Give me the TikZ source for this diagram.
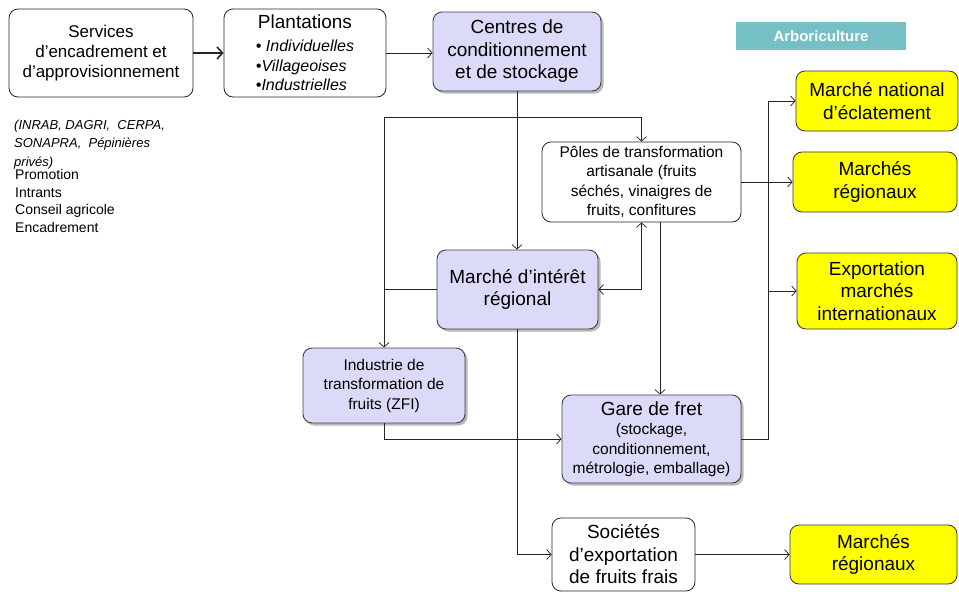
\documentclass[tikz,border=0pt]{standalone}
\usepackage{fontspec}
\setmainfont{Liberation Sans}
\usetikzlibrary{arrows.meta,shadows}

\definecolor{lav}{RGB}{219,219,249}
\definecolor{mkt}{RGB}{255,255,0}
\definecolor{arbo}{RGB}{117,192,196}

\begin{document}
\begin{tikzpicture}[x=1pt,y=-1pt,
	>={Straight Barb[length=4.5pt,width=10pt]},
	every node/.style={inner sep=0pt,align=center},
	wbox/.style={draw=black!85,fill=white,rounded corners=9pt,line width=0.8pt},
	lbox/.style={draw=black!75,fill=lav,rounded corners=9pt,line width=0.9pt,
		drop shadow={shadow xshift=2.5pt,shadow yshift=-2.5pt,fill=black!50,opacity=0.55}},
	ybox/.style={draw=black!80,fill=mkt,rounded corners=9pt,line width=0.8pt},
	flow/.style={draw=black!85,line width=0.75pt},
	bigtxt/.style={font=\fontsize{19}{22.5}\selectfont},
	smalltxt/.style={font=\fontsize{15.5}{19.5}\selectfont}]
	\useasboundingbox (0,0) rectangle (959,592);
	
	%upstream
	\node[wbox,minimum width=184,minimum height=88,font=\fontsize{17}{20}\selectfont] (serv) at (101,53)
		{Services\\d'encadrement et\\d'approvisionnement};
	\node[wbox,minimum width=162,minimum height=88] (plant) at (305,53) {};
	\node[bigtxt] (plantlist) at (305,55.5)
		{Plantations\\[1pt]
		{\fontsize{16}{19.5}\selectfont\itshape
		\begin{tabular}[t]{@{}l@{}}\textbullet\ Individuelles\\ \textbullet Villageoises\\ \textbullet Industrielles\end{tabular}}};
	\node[lbox,minimum width=168,minimum height=79,bigtxt] (centres) at (517,51.5)
		{Centres de\\conditionnement\\et de stockage};
	\node[fill=arbo,text=white,minimum width=170,minimum height=28,font=\fontsize{15}{18}\selectfont\bfseries] (titre) at (821,36)
		{Arboriculture};
	
	\node[anchor=north west,align=left,font=\fontsize{13}{18.5}\selectfont\itshape] (acteurs) at (14,119.5)
		{(INRAB, DAGRI,\ \ CERPA,\\SONAPRA,\ \ Pépinières\\privés)};
	\node[anchor=north west,align=left,font=\fontsize{14}{17.8}\selectfont] (roles) at (15,169)
		{Promotion\\Intrants\\Conseil agricole\\Encadrement};
	
	%transformation
	\node[wbox,minimum width=199,minimum height=80,smalltxt] (poles) at (641.5,182)
		{Pôles de transformation\\artisanale (fruits\\séchés, vinaigres de\\fruits, confitures};
	\node[lbox,minimum width=161,minimum height=79,bigtxt] (mir) at (517.5,289.5)
		{Marché d'intérêt\\régional};
	\node[lbox,minimum width=162,minimum height=75,smalltxt] (indus) at (384,385.5)
		{Industrie de\\transformation de\\fruits (ZFI)};
	\node[lbox,minimum width=179,minimum height=88,smalltxt] (gare) at (651.5,439)
		{{\fontsize{19}{22.5}\selectfont Gare de fret}\\(stockage,\\conditionnement,\\métrologie, emballage)};
	\node[wbox,minimum width=143,minimum height=73,bigtxt] (soc) at (623.5,554.5)
		{Sociétés\\d'exportation\\de fruits frais};
	
	%markets
	\node[ybox,minimum width=162,minimum height=60,bigtxt] (natl) at (877,101)
		{Marché national\\d'éclatement};
	\node[ybox,minimum width=164,minimum height=60,bigtxt] (regA) at (875,182)
		{Marchés\\régionaux};
	\node[ybox,minimum width=160,minimum height=76,bigtxt] (export) at (877,291)
		{Exportation\\marchés\\internationaux};
	\node[ybox,minimum width=167,minimum height=59,bigtxt] (regB) at (873.5,554.5)
		{Marchés\\régionaux};
	
	%links
	\draw[flow,line width=1.6pt,-{Straight Barb[length=5.5pt,width=12pt]}] (serv) -- (plant);
	\draw[flow,->] (plant.east) -- (plant.east -| centres.west);
	\coordinate (split) at (517,117);
	\draw[flow,->] (centres.south) -- (centres.south |- mir.north);
	\draw[flow,->] (split) -| (poles.north);
	\draw[flow,->] (split) -| (indus.north);
	\draw[flow] (mir.west) -- (mir.west -| indus.north);
	\draw[flow,<->] (mir.east) -| (poles.south);
	\draw[flow,->] ([xshift=18.5pt]poles.south) -- ([xshift=18.5pt]poles.south |- gare.north);
	\draw[flow,->] (poles.east) -- (poles.east -| regA.west);
	\coordinate (bus) at ([xshift=27pt]gare.east);
	\draw[flow,->] (gare.east) -- (bus) |- (natl.west);
	\draw[flow,->] (bus |- export.west) -- (export.west);
	\draw[flow,->] (mir.south) |- (soc.west);
	\draw[flow,->] (indus.south) |- (gare.west);
	\draw[flow,->] (soc.east) -- (soc.east -| regB.west);
\end{tikzpicture}
\end{document}
